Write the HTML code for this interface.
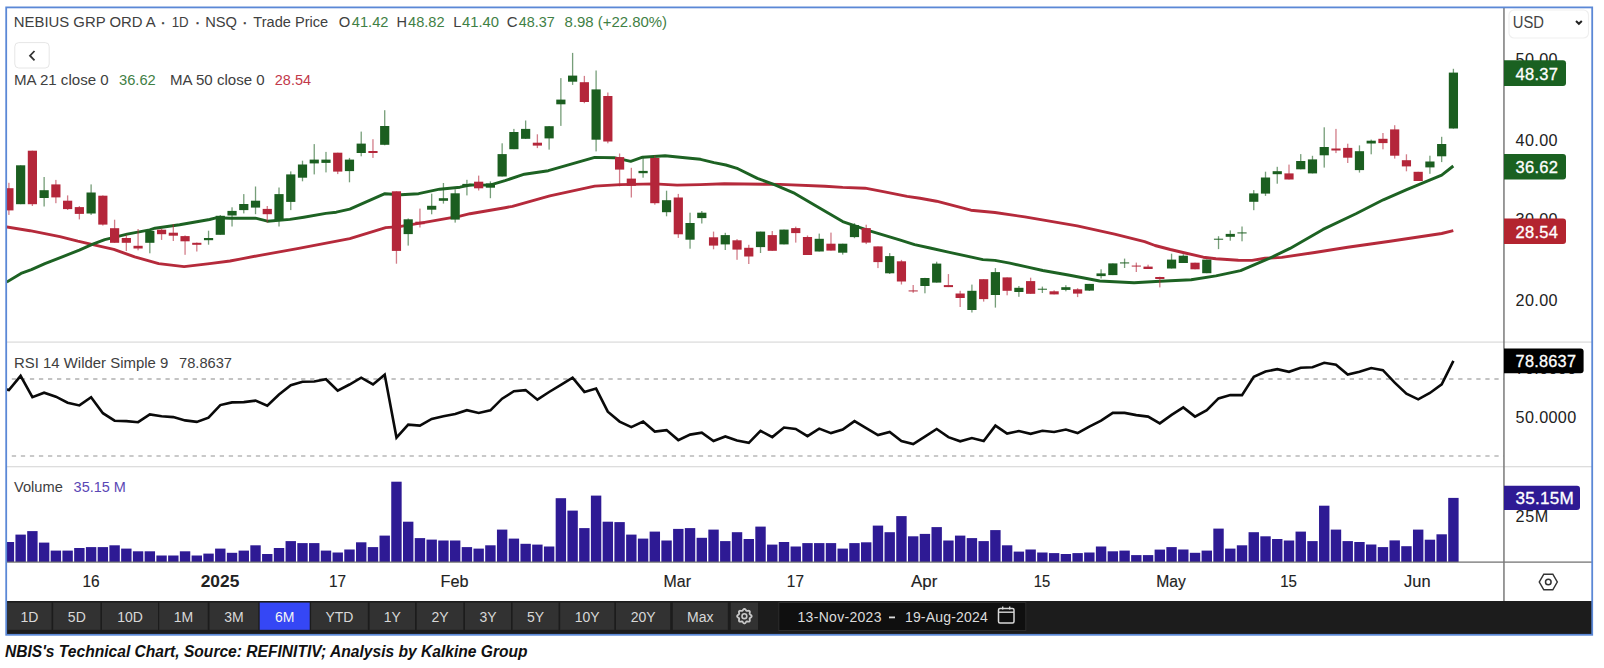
<!DOCTYPE html>
<html><head><meta charset="utf-8"><style>
*{margin:0;padding:0}
html,body{width:1604px;height:668px;background:#fff;overflow:hidden;font-family:"Liberation Sans", sans-serif}
svg{position:absolute;left:0;top:0}
</style></head><body>
<svg width="1604" height="668" viewBox="0 0 1604 668">
<defs><clipPath id="plot"><rect x="7" y="8" width="1496.3" height="593"/></clipPath></defs>
<rect x="7" y="341.5" width="1585" height="1.2" fill="#dadada"/>
<rect x="7" y="466.1" width="1585" height="1.2" fill="#dadada"/>
<line x1="11.8" y1="379" x2="1504" y2="379" stroke="#b0b0b0" stroke-width="1.6" stroke-dasharray="4.3,4.74"/>
<line x1="11.8" y1="456" x2="1504" y2="456" stroke="#b8b8b8" stroke-width="1.6" stroke-dasharray="4.3,4.74"/>
<g clip-path="url(#plot)"><polyline fill="none" stroke="#b52a3b" stroke-width="2.9" stroke-linejoin="round" points="6.7,226.9 29.9,230.7 59.9,236.7 77.8,241.2 92.8,244.6 113.8,249.4 134.7,256.9 158.7,263.6 184.1,266.6 209.6,263.6 230.0,261.0 240.0,259.1 259.9,255.3 297.4,248.6 349.8,238.6 385.7,227.6 399.2,226.6 424.6,222.4 460.0,216.1 470.0,213.7 505.0,207.7 512.4,206.3 549.8,195.9 594.7,186.1 620.2,184.6 654.6,183.9 677.1,185.1 700.0,184.6 724.4,183.7 779.8,184.4 825.0,186.2 842.7,187.4 865.1,188.2 884.6,191.9 907.1,196.4 920.0,198.2 936.5,201.2 970.9,210.2 994.9,212.5 1024.8,216.9 1077.2,225.9 1114.6,234.2 1144.6,241.6 1155.0,245.5 1170.3,249.5 1183.0,252.5 1203.3,257.2 1215.9,258.7 1238.3,260.2 1252.1,260.4 1265.0,258.2 1281.8,257.4 1314.7,252.5 1347.7,247.2 1390.0,241.3 1441.7,233.5 1453.3,230.6"/><polyline fill="none" stroke="#1d6223" stroke-width="2.9" stroke-linejoin="round" points="6.7,282.0 21.0,273.4 31.4,269.6 44.9,263.6 62.9,256.6 79.3,250.1 92.8,244.2 104.8,239.7 110.0,238.4 127.2,234.1 149.7,229.9 155.0,228.2 179.6,224.7 209.6,219.5 217.0,217.7 230.0,218.2 255.4,218.2 267.4,221.2 289.9,219.4 303.8,217.2 325.8,213.4 336.3,212.2 349.8,209.2 384.9,193.7 400.7,194.7 418.6,193.7 439.6,189.2 460.0,187.2 470.0,185.0 489.9,185.1 505.0,180.6 524.4,174.2 548.3,170.7 594.7,157.4 614.2,157.7 630.7,161.4 642.6,157.2 665.1,155.7 690.0,158.2 700.5,159.3 714.0,162.7 725.9,165.0 737.9,168.7 757.4,178.4 773.8,184.4 794.8,193.4 818.7,207.6 842.7,221.6 869.6,230.8 899.6,239.8 914.6,244.6 930.0,248.0 948.4,252.1 982.9,259.6 994.9,260.4 1009.8,263.1 1027.8,267.1 1042.8,270.5 1069.7,275.3 1099.6,281.0 1134.1,282.8 1160.0,281.3 1191.2,279.7 1215.9,275.9 1240.6,270.6 1268.6,258.7 1290.0,248.4 1323.0,229.4 1355.9,213.8 1383.3,199.8 1406.7,189.7 1441.7,175.2 1453.3,166.0"/><rect x="8.25" y="182.8" width="1.3" height="32.1" fill="#b4263a" opacity="0.6"/><rect x="4.30" y="188.2" width="9.2" height="22.2" fill="#b4263a" opacity="1"/><rect x="19.99" y="165.3" width="1.3" height="38.9" fill="#1b5e20" opacity="0.6"/><rect x="16.04" y="165.3" width="9.2" height="38.9" fill="#1b5e20" opacity="1"/><rect x="31.74" y="150.7" width="1.3" height="55.3" fill="#b4263a" opacity="0.6"/><rect x="27.79" y="150.7" width="9.2" height="53.5" fill="#b4263a" opacity="1"/><rect x="43.48" y="177.0" width="1.3" height="29.5" fill="#1b5e20" opacity="0.6"/><rect x="39.53" y="190.2" width="9.2" height="7.8" fill="#1b5e20" opacity="1"/><rect x="55.23" y="179.9" width="1.3" height="23.3" fill="#b4263a" opacity="0.6"/><rect x="51.28" y="184.4" width="9.2" height="13.0" fill="#b4263a" opacity="1"/><rect x="66.97" y="195.4" width="1.3" height="14.6" fill="#b4263a" opacity="0.6"/><rect x="63.02" y="200.7" width="9.2" height="8.4" fill="#b4263a" opacity="1"/><rect x="78.71" y="206.1" width="1.3" height="13.3" fill="#b4263a" opacity="0.6"/><rect x="74.76" y="207.1" width="9.2" height="6.8" fill="#b4263a" opacity="1"/><rect x="90.46" y="184.4" width="1.3" height="30.5" fill="#1b5e20" opacity="0.6"/><rect x="86.51" y="192.5" width="9.2" height="21.0" fill="#1b5e20" opacity="1"/><rect x="102.20" y="195.4" width="1.3" height="30.2" fill="#b4263a" opacity="0.6"/><rect x="98.25" y="195.7" width="9.2" height="28.9" fill="#b4263a" opacity="1"/><rect x="113.95" y="219.7" width="1.3" height="23.1" fill="#b4263a" opacity="0.6"/><rect x="110.00" y="228.2" width="9.2" height="14.6" fill="#b4263a" opacity="1"/><rect x="125.69" y="234.6" width="1.3" height="16.4" fill="#b4263a" opacity="0.6"/><rect x="121.74" y="238.0" width="9.2" height="4.8" fill="#b4263a" opacity="1"/><rect x="137.43" y="229.0" width="1.3" height="21.3" fill="#b4263a" opacity="0.6"/><rect x="133.48" y="245.8" width="9.2" height="2.7" fill="#b4263a" opacity="1"/><rect x="149.18" y="230.9" width="1.3" height="22.4" fill="#1b5e20" opacity="0.6"/><rect x="145.23" y="230.9" width="9.2" height="11.9" fill="#1b5e20" opacity="1"/><rect x="160.92" y="228.6" width="1.3" height="11.3" fill="#b4263a" opacity="0.6"/><rect x="156.97" y="229.7" width="9.2" height="4.5" fill="#b4263a" opacity="1"/><rect x="172.67" y="224.1" width="1.3" height="16.9" fill="#b4263a" opacity="0.6"/><rect x="168.72" y="232.7" width="9.2" height="3.0" fill="#b4263a" opacity="1"/><rect x="184.41" y="235.4" width="1.3" height="19.4" fill="#b4263a" opacity="0.6"/><rect x="180.46" y="236.1" width="9.2" height="5.2" fill="#b4263a" opacity="1"/><rect x="196.15" y="242.5" width="1.3" height="9.0" fill="#b4263a" opacity="0.6"/><rect x="192.20" y="242.8" width="9.2" height="2.0" fill="#b4263a" opacity="1"/><rect x="207.90" y="230.7" width="1.3" height="14.0" fill="#1b5e20" opacity="0.6"/><rect x="203.95" y="238.0" width="9.2" height="2.2" fill="#1b5e20" opacity="1"/><rect x="219.64" y="215.0" width="1.3" height="19.8" fill="#1b5e20" opacity="0.6"/><rect x="215.69" y="215.8" width="9.2" height="19.0" fill="#1b5e20" opacity="1"/><rect x="231.39" y="207.3" width="1.3" height="19.2" fill="#1b5e20" opacity="0.6"/><rect x="227.44" y="210.9" width="9.2" height="4.6" fill="#1b5e20" opacity="1"/><rect x="243.13" y="194.1" width="1.3" height="19.3" fill="#1b5e20" opacity="0.6"/><rect x="239.18" y="204.0" width="9.2" height="6.1" fill="#1b5e20" opacity="1"/><rect x="254.87" y="186.5" width="1.3" height="27.7" fill="#1b5e20" opacity="0.6"/><rect x="250.92" y="200.7" width="9.2" height="6.9" fill="#1b5e20" opacity="1"/><rect x="266.62" y="206.0" width="1.3" height="16.4" fill="#b4263a" opacity="0.6"/><rect x="262.67" y="208.9" width="9.2" height="5.3" fill="#b4263a" opacity="1"/><rect x="278.36" y="187.5" width="1.3" height="39.0" fill="#1b5e20" opacity="0.6"/><rect x="274.41" y="194.1" width="9.2" height="25.9" fill="#1b5e20" opacity="1"/><rect x="290.11" y="171.4" width="1.3" height="38.7" fill="#1b5e20" opacity="0.6"/><rect x="286.16" y="174.4" width="9.2" height="27.5" fill="#1b5e20" opacity="1"/><rect x="301.85" y="160.7" width="1.3" height="20.6" fill="#1b5e20" opacity="0.6"/><rect x="297.90" y="164.5" width="9.2" height="13.2" fill="#1b5e20" opacity="1"/><rect x="313.59" y="144.1" width="1.3" height="30.3" fill="#1b5e20" opacity="0.6"/><rect x="309.64" y="159.6" width="9.2" height="3.8" fill="#1b5e20" opacity="1"/><rect x="325.34" y="151.9" width="1.3" height="20.5" fill="#1b5e20" opacity="0.6"/><rect x="321.39" y="159.6" width="9.2" height="3.3" fill="#1b5e20" opacity="1"/><rect x="337.08" y="152.7" width="1.3" height="21.4" fill="#b4263a" opacity="0.6"/><rect x="333.13" y="152.7" width="9.2" height="18.9" fill="#b4263a" opacity="1"/><rect x="348.83" y="157.9" width="1.3" height="24.4" fill="#1b5e20" opacity="0.6"/><rect x="344.88" y="159.6" width="9.2" height="11.5" fill="#1b5e20" opacity="1"/><rect x="360.57" y="131.6" width="1.3" height="24.7" fill="#1b5e20" opacity="0.6"/><rect x="356.62" y="143.6" width="9.2" height="9.4" fill="#1b5e20" opacity="1"/><rect x="372.31" y="139.2" width="1.3" height="18.7" fill="#b4263a" opacity="0.6"/><rect x="368.36" y="151.0" width="9.2" height="2.0" fill="#b4263a" opacity="1"/><rect x="384.06" y="110.2" width="1.3" height="35.1" fill="#1b5e20" opacity="0.6"/><rect x="380.11" y="126.0" width="9.2" height="18.8" fill="#1b5e20" opacity="1"/><rect x="395.80" y="191.3" width="1.3" height="72.4" fill="#b4263a" opacity="0.6"/><rect x="391.85" y="191.3" width="9.2" height="59.6" fill="#b4263a" opacity="1"/><rect x="407.55" y="218.4" width="1.3" height="27.2" fill="#1b5e20" opacity="0.6"/><rect x="403.60" y="219.3" width="9.2" height="14.8" fill="#1b5e20" opacity="1"/><rect x="419.29" y="208.6" width="1.3" height="18.9" fill="#b4263a" opacity="0.6"/><rect x="415.34" y="221.7" width="9.2" height="2.5" fill="#b4263a" opacity="1"/><rect x="431.03" y="193.7" width="1.3" height="20.6" fill="#1b5e20" opacity="0.6"/><rect x="427.08" y="205.8" width="9.2" height="3.9" fill="#1b5e20" opacity="1"/><rect x="442.78" y="183.0" width="1.3" height="20.6" fill="#1b5e20" opacity="0.6"/><rect x="438.83" y="198.2" width="9.2" height="2.6" fill="#1b5e20" opacity="1"/><rect x="454.52" y="189.3" width="1.3" height="33.3" fill="#1b5e20" opacity="0.6"/><rect x="450.57" y="193.3" width="9.2" height="26.3" fill="#1b5e20" opacity="1"/><rect x="466.27" y="179.8" width="1.3" height="15.6" fill="#1b5e20" opacity="0.6"/><rect x="462.32" y="183.9" width="9.2" height="2.4" fill="#1b5e20" opacity="1"/><rect x="478.01" y="175.6" width="1.3" height="14.9" fill="#b4263a" opacity="0.6"/><rect x="474.06" y="181.7" width="9.2" height="6.6" fill="#b4263a" opacity="1"/><rect x="489.75" y="181.4" width="1.3" height="16.8" fill="#1b5e20" opacity="0.6"/><rect x="485.80" y="183.4" width="9.2" height="4.3" fill="#1b5e20" opacity="1"/><rect x="501.50" y="143.3" width="1.3" height="33.2" fill="#1b5e20" opacity="0.6"/><rect x="497.55" y="154.1" width="9.2" height="22.4" fill="#1b5e20" opacity="1"/><rect x="513.24" y="128.9" width="1.3" height="20.3" fill="#1b5e20" opacity="0.6"/><rect x="509.29" y="132.0" width="9.2" height="17.2" fill="#1b5e20" opacity="1"/><rect x="524.99" y="120.5" width="1.3" height="18.5" fill="#1b5e20" opacity="0.6"/><rect x="521.04" y="128.9" width="9.2" height="9.9" fill="#1b5e20" opacity="1"/><rect x="536.73" y="134.3" width="1.3" height="13.8" fill="#b4263a" opacity="0.6"/><rect x="532.78" y="142.7" width="9.2" height="2.9" fill="#b4263a" opacity="1"/><rect x="548.47" y="126.0" width="1.3" height="23.6" fill="#1b5e20" opacity="0.6"/><rect x="544.52" y="126.2" width="9.2" height="12.2" fill="#1b5e20" opacity="1"/><rect x="560.22" y="78.1" width="1.3" height="47.8" fill="#1b5e20" opacity="0.6"/><rect x="556.27" y="99.6" width="9.2" height="4.7" fill="#1b5e20" opacity="1"/><rect x="571.96" y="52.9" width="1.3" height="32.0" fill="#1b5e20" opacity="0.6"/><rect x="568.01" y="75.6" width="9.2" height="6.1" fill="#1b5e20" opacity="1"/><rect x="583.71" y="75.9" width="1.3" height="27.3" fill="#b4263a" opacity="0.6"/><rect x="579.76" y="82.2" width="9.2" height="19.8" fill="#b4263a" opacity="1"/><rect x="595.45" y="70.5" width="1.3" height="80.9" fill="#1b5e20" opacity="0.6"/><rect x="591.50" y="89.4" width="9.2" height="50.3" fill="#1b5e20" opacity="1"/><rect x="607.19" y="92.5" width="1.3" height="50.8" fill="#b4263a" opacity="0.6"/><rect x="603.24" y="96.0" width="9.2" height="45.5" fill="#b4263a" opacity="1"/><rect x="618.94" y="153.5" width="1.3" height="32.8" fill="#b4263a" opacity="0.6"/><rect x="614.99" y="157.1" width="9.2" height="12.5" fill="#b4263a" opacity="1"/><rect x="630.68" y="167.8" width="1.3" height="29.7" fill="#b4263a" opacity="0.6"/><rect x="626.73" y="178.6" width="9.2" height="7.2" fill="#b4263a" opacity="1"/><rect x="642.43" y="156.5" width="1.3" height="21.2" fill="#1b5e20" opacity="0.6"/><rect x="638.48" y="170.9" width="9.2" height="2.3" fill="#1b5e20" opacity="1"/><rect x="654.17" y="155.8" width="1.3" height="48.9" fill="#b4263a" opacity="0.6"/><rect x="650.22" y="158.0" width="9.2" height="45.2" fill="#b4263a" opacity="1"/><rect x="665.91" y="190.7" width="1.3" height="25.6" fill="#1b5e20" opacity="0.6"/><rect x="661.96" y="200.2" width="9.2" height="12.0" fill="#1b5e20" opacity="1"/><rect x="677.66" y="193.9" width="1.3" height="44.0" fill="#b4263a" opacity="0.6"/><rect x="673.71" y="197.5" width="9.2" height="36.8" fill="#b4263a" opacity="1"/><rect x="689.40" y="212.7" width="1.3" height="36.0" fill="#1b5e20" opacity="0.6"/><rect x="685.45" y="223.0" width="9.2" height="16.7" fill="#1b5e20" opacity="1"/><rect x="701.15" y="211.0" width="1.3" height="12.5" fill="#1b5e20" opacity="0.6"/><rect x="697.20" y="212.7" width="9.2" height="5.4" fill="#1b5e20" opacity="1"/><rect x="712.89" y="231.6" width="1.3" height="17.7" fill="#b4263a" opacity="0.6"/><rect x="708.94" y="237.3" width="9.2" height="8.3" fill="#b4263a" opacity="1"/><rect x="724.63" y="232.8" width="1.3" height="17.2" fill="#1b5e20" opacity="0.6"/><rect x="720.68" y="235.1" width="9.2" height="9.3" fill="#1b5e20" opacity="1"/><rect x="736.38" y="239.1" width="1.3" height="20.7" fill="#b4263a" opacity="0.6"/><rect x="732.43" y="240.3" width="9.2" height="9.3" fill="#b4263a" opacity="1"/><rect x="748.12" y="244.8" width="1.3" height="19.2" fill="#b4263a" opacity="0.6"/><rect x="744.17" y="247.8" width="9.2" height="8.7" fill="#b4263a" opacity="1"/><rect x="759.87" y="231.6" width="1.3" height="21.4" fill="#1b5e20" opacity="0.6"/><rect x="755.92" y="231.6" width="9.2" height="15.5" fill="#1b5e20" opacity="1"/><rect x="771.61" y="231.0" width="1.3" height="19.8" fill="#b4263a" opacity="0.6"/><rect x="767.66" y="235.1" width="9.2" height="15.7" fill="#b4263a" opacity="1"/><rect x="783.35" y="229.6" width="1.3" height="14.8" fill="#1b5e20" opacity="0.6"/><rect x="779.40" y="229.6" width="9.2" height="14.8" fill="#1b5e20" opacity="1"/><rect x="795.10" y="226.6" width="1.3" height="16.0" fill="#b4263a" opacity="0.6"/><rect x="791.15" y="228.1" width="9.2" height="5.0" fill="#b4263a" opacity="1"/><rect x="806.84" y="235.5" width="1.3" height="19.5" fill="#b4263a" opacity="0.6"/><rect x="802.89" y="237.0" width="9.2" height="18.0" fill="#b4263a" opacity="1"/><rect x="818.59" y="233.6" width="1.3" height="17.9" fill="#1b5e20" opacity="0.6"/><rect x="814.64" y="238.8" width="9.2" height="12.7" fill="#1b5e20" opacity="1"/><rect x="830.33" y="232.6" width="1.3" height="18.0" fill="#b4263a" opacity="0.6"/><rect x="826.38" y="243.7" width="9.2" height="6.9" fill="#b4263a" opacity="1"/><rect x="842.07" y="243.7" width="1.3" height="10.9" fill="#1b5e20" opacity="0.6"/><rect x="838.12" y="243.7" width="9.2" height="9.0" fill="#1b5e20" opacity="1"/><rect x="853.82" y="223.2" width="1.3" height="15.0" fill="#1b5e20" opacity="0.6"/><rect x="849.87" y="225.1" width="9.2" height="12.0" fill="#1b5e20" opacity="1"/><rect x="865.56" y="224.7" width="1.3" height="19.4" fill="#b4263a" opacity="0.6"/><rect x="861.61" y="228.1" width="9.2" height="14.5" fill="#b4263a" opacity="1"/><rect x="877.31" y="246.4" width="1.3" height="21.7" fill="#b4263a" opacity="0.6"/><rect x="873.36" y="246.4" width="9.2" height="15.7" fill="#b4263a" opacity="1"/><rect x="889.05" y="253.1" width="1.3" height="20.9" fill="#1b5e20" opacity="0.6"/><rect x="885.10" y="256.1" width="9.2" height="17.2" fill="#1b5e20" opacity="1"/><rect x="900.79" y="259.9" width="1.3" height="24.6" fill="#b4263a" opacity="0.6"/><rect x="896.84" y="261.3" width="9.2" height="20.2" fill="#b4263a" opacity="1"/><rect x="912.54" y="285.0" width="1.3" height="7.8" fill="#b4263a" opacity="0.6"/><rect x="908.59" y="290.2" width="9.2" height="1.4" fill="#b4263a" opacity="0.7"/><rect x="924.28" y="277.8" width="1.3" height="15.5" fill="#1b5e20" opacity="0.6"/><rect x="920.33" y="278.0" width="9.2" height="8.0" fill="#1b5e20" opacity="1"/><rect x="936.03" y="261.7" width="1.3" height="20.9" fill="#1b5e20" opacity="0.6"/><rect x="932.08" y="263.6" width="9.2" height="19.0" fill="#1b5e20" opacity="1"/><rect x="947.77" y="274.1" width="1.3" height="13.0" fill="#b4263a" opacity="0.6"/><rect x="943.82" y="285.1" width="9.2" height="2.0" fill="#b4263a" opacity="1"/><rect x="959.51" y="290.8" width="1.3" height="16.2" fill="#b4263a" opacity="0.6"/><rect x="955.56" y="293.5" width="9.2" height="4.5" fill="#b4263a" opacity="1"/><rect x="971.26" y="284.6" width="1.3" height="27.9" fill="#1b5e20" opacity="0.6"/><rect x="967.31" y="290.8" width="9.2" height="19.2" fill="#1b5e20" opacity="1"/><rect x="983.00" y="279.2" width="1.3" height="22.4" fill="#b4263a" opacity="0.6"/><rect x="979.05" y="279.2" width="9.2" height="19.9" fill="#b4263a" opacity="1"/><rect x="994.75" y="268.1" width="1.3" height="39.5" fill="#1b5e20" opacity="0.6"/><rect x="990.80" y="272.1" width="9.2" height="22.9" fill="#1b5e20" opacity="1"/><rect x="1006.49" y="277.4" width="1.3" height="17.9" fill="#b4263a" opacity="0.6"/><rect x="1002.54" y="277.4" width="9.2" height="13.4" fill="#b4263a" opacity="1"/><rect x="1018.23" y="286.0" width="1.3" height="10.8" fill="#1b5e20" opacity="0.6"/><rect x="1014.28" y="287.8" width="9.2" height="4.2" fill="#1b5e20" opacity="1"/><rect x="1029.98" y="277.7" width="1.3" height="16.1" fill="#b4263a" opacity="0.6"/><rect x="1026.03" y="281.1" width="9.2" height="12.7" fill="#b4263a" opacity="1"/><rect x="1041.72" y="286.6" width="1.3" height="6.4" fill="#1b5e20" opacity="0.6"/><rect x="1037.77" y="288.6" width="9.2" height="1.4" fill="#1b5e20" opacity="0.7"/><rect x="1053.47" y="290.3" width="1.3" height="4.1" fill="#b4263a" opacity="0.6"/><rect x="1049.52" y="291.3" width="9.2" height="3.1" fill="#b4263a" opacity="1"/><rect x="1065.21" y="285.2" width="1.3" height="6.1" fill="#1b5e20" opacity="0.6"/><rect x="1061.26" y="287.2" width="9.2" height="2.7" fill="#1b5e20" opacity="1"/><rect x="1076.95" y="288.2" width="1.3" height="8.9" fill="#b4263a" opacity="0.6"/><rect x="1073.00" y="289.3" width="9.2" height="4.3" fill="#b4263a" opacity="1"/><rect x="1088.70" y="283.9" width="1.3" height="7.1" fill="#1b5e20" opacity="0.6"/><rect x="1084.75" y="283.9" width="9.2" height="6.7" fill="#1b5e20" opacity="1"/><rect x="1100.44" y="269.3" width="1.3" height="9.2" fill="#1b5e20" opacity="0.6"/><rect x="1096.49" y="273.4" width="9.2" height="2.7" fill="#1b5e20" opacity="1"/><rect x="1112.19" y="263.4" width="1.3" height="11.7" fill="#1b5e20" opacity="0.6"/><rect x="1108.24" y="263.4" width="9.2" height="11.7" fill="#1b5e20" opacity="1"/><rect x="1123.93" y="258.6" width="1.3" height="9.4" fill="#1b5e20" opacity="0.6"/><rect x="1119.98" y="262.2" width="9.2" height="1.4" fill="#1b5e20" opacity="0.7"/><rect x="1135.67" y="262.6" width="1.3" height="9.4" fill="#b4263a" opacity="0.6"/><rect x="1131.72" y="265.4" width="9.2" height="1.4" fill="#b4263a" opacity="0.7"/><rect x="1147.42" y="264.7" width="1.3" height="4.3" fill="#b4263a" opacity="0.6"/><rect x="1143.47" y="266.6" width="9.2" height="2.4" fill="#b4263a" opacity="1"/><rect x="1159.16" y="276.7" width="1.3" height="10.7" fill="#b4263a" opacity="0.6"/><rect x="1155.21" y="277.0" width="9.2" height="2.0" fill="#b4263a" opacity="1"/><rect x="1170.91" y="253.7" width="1.3" height="14.8" fill="#1b5e20" opacity="0.6"/><rect x="1166.96" y="259.6" width="9.2" height="8.9" fill="#1b5e20" opacity="1"/><rect x="1182.65" y="254.3" width="1.3" height="8.7" fill="#1b5e20" opacity="0.6"/><rect x="1178.70" y="255.7" width="9.2" height="7.3" fill="#1b5e20" opacity="1"/><rect x="1194.39" y="262.7" width="1.3" height="6.6" fill="#b4263a" opacity="0.6"/><rect x="1190.44" y="262.7" width="9.2" height="6.6" fill="#b4263a" opacity="1"/><rect x="1206.14" y="259.6" width="1.3" height="13.6" fill="#1b5e20" opacity="0.6"/><rect x="1202.19" y="259.6" width="9.2" height="13.6" fill="#1b5e20" opacity="1"/><rect x="1217.88" y="236.2" width="1.3" height="12.9" fill="#1b5e20" opacity="0.6"/><rect x="1213.93" y="238.6" width="9.2" height="1.4" fill="#1b5e20" opacity="0.7"/><rect x="1229.63" y="230.4" width="1.3" height="10.3" fill="#1b5e20" opacity="0.6"/><rect x="1225.68" y="233.9" width="9.2" height="2.9" fill="#1b5e20" opacity="1"/><rect x="1241.37" y="226.5" width="1.3" height="14.8" fill="#1b5e20" opacity="0.6"/><rect x="1237.42" y="232.2" width="9.2" height="1.4" fill="#1b5e20" opacity="0.7"/><rect x="1253.11" y="190.1" width="1.3" height="20.1" fill="#1b5e20" opacity="0.6"/><rect x="1249.16" y="193.4" width="9.2" height="8.4" fill="#1b5e20" opacity="1"/><rect x="1264.86" y="171.7" width="1.3" height="24.2" fill="#1b5e20" opacity="0.6"/><rect x="1260.91" y="177.5" width="9.2" height="16.1" fill="#1b5e20" opacity="1"/><rect x="1276.60" y="166.8" width="1.3" height="16.9" fill="#1b5e20" opacity="0.6"/><rect x="1272.65" y="171.2" width="9.2" height="3.0" fill="#1b5e20" opacity="1"/><rect x="1288.35" y="164.6" width="1.3" height="14.9" fill="#b4263a" opacity="0.6"/><rect x="1284.40" y="173.4" width="9.2" height="6.1" fill="#b4263a" opacity="1"/><rect x="1300.09" y="154.1" width="1.3" height="15.2" fill="#1b5e20" opacity="0.6"/><rect x="1296.14" y="161.0" width="9.2" height="8.3" fill="#1b5e20" opacity="1"/><rect x="1311.83" y="155.8" width="1.3" height="17.6" fill="#1b5e20" opacity="0.6"/><rect x="1307.88" y="159.4" width="9.2" height="14.0" fill="#1b5e20" opacity="1"/><rect x="1323.58" y="127.3" width="1.3" height="40.3" fill="#1b5e20" opacity="0.6"/><rect x="1319.63" y="147.0" width="9.2" height="8.3" fill="#1b5e20" opacity="1"/><rect x="1335.32" y="128.9" width="1.3" height="24.2" fill="#b4263a" opacity="0.6"/><rect x="1331.37" y="148.5" width="9.2" height="2.0" fill="#b4263a" opacity="1"/><rect x="1347.07" y="143.7" width="1.3" height="19.3" fill="#b4263a" opacity="0.6"/><rect x="1343.12" y="147.9" width="9.2" height="9.8" fill="#b4263a" opacity="1"/><rect x="1358.81" y="145.4" width="1.3" height="27.2" fill="#1b5e20" opacity="0.6"/><rect x="1354.86" y="151.2" width="9.2" height="18.9" fill="#1b5e20" opacity="1"/><rect x="1370.55" y="139.6" width="1.3" height="14.7" fill="#1b5e20" opacity="0.6"/><rect x="1366.60" y="140.7" width="9.2" height="2.8" fill="#1b5e20" opacity="1"/><rect x="1382.30" y="133.0" width="1.3" height="16.3" fill="#b4263a" opacity="0.6"/><rect x="1378.35" y="138.8" width="9.2" height="4.3" fill="#b4263a" opacity="1"/><rect x="1394.04" y="125.2" width="1.3" height="33.4" fill="#b4263a" opacity="0.6"/><rect x="1390.09" y="129.4" width="9.2" height="26.3" fill="#b4263a" opacity="1"/><rect x="1405.79" y="154.3" width="1.3" height="17.0" fill="#b4263a" opacity="0.6"/><rect x="1401.84" y="160.2" width="9.2" height="6.2" fill="#b4263a" opacity="1"/><rect x="1417.53" y="171.8" width="1.3" height="9.2" fill="#b4263a" opacity="0.6"/><rect x="1413.58" y="171.8" width="9.2" height="9.2" fill="#b4263a" opacity="1"/><rect x="1429.27" y="155.7" width="1.3" height="18.1" fill="#1b5e20" opacity="0.6"/><rect x="1425.32" y="161.5" width="9.2" height="5.9" fill="#1b5e20" opacity="1"/><rect x="1441.02" y="136.8" width="1.3" height="25.3" fill="#1b5e20" opacity="0.6"/><rect x="1437.07" y="144.0" width="9.2" height="12.3" fill="#1b5e20" opacity="1"/><rect x="1452.76" y="68.8" width="1.3" height="59.8" fill="#1b5e20" opacity="0.6"/><rect x="1448.81" y="72.6" width="9.2" height="55.9" fill="#1b5e20" opacity="1"/><polyline fill="none" stroke="#0a0a0a" stroke-width="2.6" stroke-linejoin="miter" stroke-miterlimit="6" points="6.5,389.5 8.9,390.0 20.6,375.8 32.4,397.2 44.1,392.7 55.9,396.7 67.6,402.7 79.4,405.4 91.1,397.2 102.9,413.2 114.6,420.7 126.3,421.1 138.1,422.2 149.8,414.4 161.6,416.2 173.3,417.1 185.1,420.4 196.8,421.9 208.5,417.7 220.3,405.1 232.0,402.4 243.8,402.1 255.5,400.6 267.3,405.7 279.0,394.6 290.8,385.2 302.5,381.8 314.2,381.5 326.0,379.2 337.7,390.7 349.5,384.5 361.2,377.7 373.0,384.5 384.7,374.7 396.5,437.6 408.2,424.6 419.9,425.6 431.7,418.9 443.4,416.2 455.2,414.1 466.9,410.2 478.7,412.9 490.4,410.3 502.1,398.7 513.9,391.2 525.6,390.1 537.4,399.7 549.1,392.0 560.9,384.8 572.6,377.7 584.4,391.9 596.1,388.6 607.8,411.7 619.6,421.6 631.3,427.1 643.1,421.6 654.8,431.6 666.6,430.1 678.3,440.1 690.1,434.6 701.8,432.7 713.5,441.0 725.3,436.5 737.0,440.6 748.8,442.8 760.5,430.8 772.3,437.1 784.0,427.5 795.7,429.0 807.5,436.1 819.2,428.6 831.0,433.1 842.7,429.6 854.5,421.1 866.2,428.1 878.0,435.0 889.7,432.0 901.4,441.0 913.2,444.0 924.9,436.6 936.7,429.0 948.4,437.1 960.2,441.3 971.9,438.0 983.7,441.0 995.4,425.6 1007.1,433.5 1018.9,431.1 1030.6,433.8 1042.4,430.8 1054.1,432.0 1065.9,429.6 1077.6,433.1 1089.3,426.6 1101.1,420.7 1112.8,412.9 1124.6,412.9 1136.3,415.1 1148.1,416.6 1159.8,423.4 1171.6,414.9 1183.3,407.4 1195.0,416.6 1206.8,410.1 1218.5,398.4 1230.3,395.1 1242.0,395.1 1253.8,376.7 1265.5,371.5 1277.3,369.2 1289.0,371.8 1300.7,367.7 1312.5,367.3 1324.2,362.8 1336.0,364.7 1347.7,374.5 1359.5,371.8 1371.2,368.0 1382.9,370.1 1394.7,382.7 1406.4,393.7 1418.2,399.3 1429.9,393.0 1441.7,384.3 1453.4,360.9"/><rect x="3.70" y="542.0" width="10.4" height="20.0" fill="#2e1a94"/><rect x="15.44" y="534.6" width="10.4" height="27.4" fill="#2e1a94"/><rect x="27.19" y="531.1" width="10.4" height="30.9" fill="#2e1a94"/><rect x="38.93" y="542.6" width="10.4" height="19.4" fill="#2e1a94"/><rect x="50.68" y="550.6" width="10.4" height="11.4" fill="#2e1a94"/><rect x="62.42" y="550.6" width="10.4" height="11.4" fill="#2e1a94"/><rect x="74.16" y="548.0" width="10.4" height="14.0" fill="#2e1a94"/><rect x="85.91" y="547.1" width="10.4" height="14.9" fill="#2e1a94"/><rect x="97.65" y="547.1" width="10.4" height="14.9" fill="#2e1a94"/><rect x="109.40" y="545.3" width="10.4" height="16.7" fill="#2e1a94"/><rect x="121.14" y="548.6" width="10.4" height="13.4" fill="#2e1a94"/><rect x="132.88" y="551.3" width="10.4" height="10.7" fill="#2e1a94"/><rect x="144.63" y="551.3" width="10.4" height="10.7" fill="#2e1a94"/><rect x="156.37" y="555.5" width="10.4" height="6.5" fill="#2e1a94"/><rect x="168.12" y="555.5" width="10.4" height="6.5" fill="#2e1a94"/><rect x="179.86" y="551.3" width="10.4" height="10.7" fill="#2e1a94"/><rect x="191.60" y="555.5" width="10.4" height="6.5" fill="#2e1a94"/><rect x="203.35" y="553.6" width="10.4" height="8.4" fill="#2e1a94"/><rect x="215.09" y="548.6" width="10.4" height="13.4" fill="#2e1a94"/><rect x="226.84" y="552.8" width="10.4" height="9.2" fill="#2e1a94"/><rect x="238.58" y="550.6" width="10.4" height="11.4" fill="#2e1a94"/><rect x="250.32" y="545.3" width="10.4" height="16.7" fill="#2e1a94"/><rect x="262.07" y="554.0" width="10.4" height="8.0" fill="#2e1a94"/><rect x="273.81" y="548.0" width="10.4" height="14.0" fill="#2e1a94"/><rect x="285.56" y="541.1" width="10.4" height="20.9" fill="#2e1a94"/><rect x="297.30" y="543.1" width="10.4" height="18.9" fill="#2e1a94"/><rect x="309.04" y="543.1" width="10.4" height="18.9" fill="#2e1a94"/><rect x="320.79" y="550.6" width="10.4" height="11.4" fill="#2e1a94"/><rect x="332.53" y="552.5" width="10.4" height="9.5" fill="#2e1a94"/><rect x="344.28" y="549.5" width="10.4" height="12.5" fill="#2e1a94"/><rect x="356.02" y="542.3" width="10.4" height="19.7" fill="#2e1a94"/><rect x="367.76" y="547.1" width="10.4" height="14.9" fill="#2e1a94"/><rect x="379.51" y="535.6" width="10.4" height="26.4" fill="#2e1a94"/><rect x="391.25" y="481.7" width="10.4" height="80.3" fill="#2e1a94"/><rect x="403.00" y="521.7" width="10.4" height="40.3" fill="#2e1a94"/><rect x="414.74" y="538.1" width="10.4" height="23.9" fill="#2e1a94"/><rect x="426.48" y="539.6" width="10.4" height="22.4" fill="#2e1a94"/><rect x="438.23" y="540.5" width="10.4" height="21.5" fill="#2e1a94"/><rect x="449.97" y="540.5" width="10.4" height="21.5" fill="#2e1a94"/><rect x="461.72" y="547.1" width="10.4" height="14.9" fill="#2e1a94"/><rect x="473.46" y="548.6" width="10.4" height="13.4" fill="#2e1a94"/><rect x="485.20" y="545.3" width="10.4" height="16.7" fill="#2e1a94"/><rect x="496.95" y="529.6" width="10.4" height="32.4" fill="#2e1a94"/><rect x="508.69" y="538.6" width="10.4" height="23.4" fill="#2e1a94"/><rect x="520.44" y="543.8" width="10.4" height="18.2" fill="#2e1a94"/><rect x="532.18" y="544.6" width="10.4" height="17.4" fill="#2e1a94"/><rect x="543.92" y="546.5" width="10.4" height="15.5" fill="#2e1a94"/><rect x="555.67" y="498.2" width="10.4" height="63.8" fill="#2e1a94"/><rect x="567.41" y="510.6" width="10.4" height="51.4" fill="#2e1a94"/><rect x="579.16" y="528.1" width="10.4" height="33.9" fill="#2e1a94"/><rect x="590.90" y="495.6" width="10.4" height="66.4" fill="#2e1a94"/><rect x="602.64" y="521.7" width="10.4" height="40.3" fill="#2e1a94"/><rect x="614.39" y="522.1" width="10.4" height="39.9" fill="#2e1a94"/><rect x="626.13" y="534.6" width="10.4" height="27.4" fill="#2e1a94"/><rect x="637.88" y="538.6" width="10.4" height="23.4" fill="#2e1a94"/><rect x="649.62" y="531.6" width="10.4" height="30.4" fill="#2e1a94"/><rect x="661.36" y="540.5" width="10.4" height="21.5" fill="#2e1a94"/><rect x="673.11" y="528.9" width="10.4" height="33.1" fill="#2e1a94"/><rect x="684.85" y="528.1" width="10.4" height="33.9" fill="#2e1a94"/><rect x="696.60" y="537.8" width="10.4" height="24.2" fill="#2e1a94"/><rect x="708.34" y="529.6" width="10.4" height="32.4" fill="#2e1a94"/><rect x="720.08" y="541.1" width="10.4" height="20.9" fill="#2e1a94"/><rect x="731.83" y="532.2" width="10.4" height="29.8" fill="#2e1a94"/><rect x="743.57" y="539.0" width="10.4" height="23.0" fill="#2e1a94"/><rect x="755.32" y="526.6" width="10.4" height="35.4" fill="#2e1a94"/><rect x="767.06" y="544.6" width="10.4" height="17.4" fill="#2e1a94"/><rect x="778.80" y="542.0" width="10.4" height="20.0" fill="#2e1a94"/><rect x="790.55" y="546.5" width="10.4" height="15.5" fill="#2e1a94"/><rect x="802.29" y="543.1" width="10.4" height="18.9" fill="#2e1a94"/><rect x="814.04" y="543.1" width="10.4" height="18.9" fill="#2e1a94"/><rect x="825.78" y="543.1" width="10.4" height="18.9" fill="#2e1a94"/><rect x="837.52" y="548.6" width="10.4" height="13.4" fill="#2e1a94"/><rect x="849.27" y="543.1" width="10.4" height="18.9" fill="#2e1a94"/><rect x="861.01" y="542.3" width="10.4" height="19.7" fill="#2e1a94"/><rect x="872.76" y="525.6" width="10.4" height="36.4" fill="#2e1a94"/><rect x="884.50" y="532.2" width="10.4" height="29.8" fill="#2e1a94"/><rect x="896.24" y="516.1" width="10.4" height="45.9" fill="#2e1a94"/><rect x="907.99" y="536.3" width="10.4" height="25.7" fill="#2e1a94"/><rect x="919.73" y="533.9" width="10.4" height="28.1" fill="#2e1a94"/><rect x="931.48" y="527.1" width="10.4" height="34.9" fill="#2e1a94"/><rect x="943.22" y="540.5" width="10.4" height="21.5" fill="#2e1a94"/><rect x="954.96" y="535.6" width="10.4" height="26.4" fill="#2e1a94"/><rect x="966.71" y="538.1" width="10.4" height="23.9" fill="#2e1a94"/><rect x="978.45" y="541.1" width="10.4" height="20.9" fill="#2e1a94"/><rect x="990.20" y="530.1" width="10.4" height="31.9" fill="#2e1a94"/><rect x="1001.94" y="545.3" width="10.4" height="16.7" fill="#2e1a94"/><rect x="1013.68" y="551.6" width="10.4" height="10.4" fill="#2e1a94"/><rect x="1025.43" y="549.5" width="10.4" height="12.5" fill="#2e1a94"/><rect x="1037.17" y="552.5" width="10.4" height="9.5" fill="#2e1a94"/><rect x="1048.92" y="553.1" width="10.4" height="8.9" fill="#2e1a94"/><rect x="1060.66" y="554.0" width="10.4" height="8.0" fill="#2e1a94"/><rect x="1072.40" y="553.1" width="10.4" height="8.9" fill="#2e1a94"/><rect x="1084.15" y="552.5" width="10.4" height="9.5" fill="#2e1a94"/><rect x="1095.89" y="546.5" width="10.4" height="15.5" fill="#2e1a94"/><rect x="1107.64" y="551.3" width="10.4" height="10.7" fill="#2e1a94"/><rect x="1119.38" y="550.6" width="10.4" height="11.4" fill="#2e1a94"/><rect x="1131.12" y="555.1" width="10.4" height="6.9" fill="#2e1a94"/><rect x="1142.87" y="555.1" width="10.4" height="6.9" fill="#2e1a94"/><rect x="1154.61" y="549.6" width="10.4" height="12.4" fill="#2e1a94"/><rect x="1166.36" y="547.1" width="10.4" height="14.9" fill="#2e1a94"/><rect x="1178.10" y="549.5" width="10.4" height="12.5" fill="#2e1a94"/><rect x="1189.84" y="552.8" width="10.4" height="9.2" fill="#2e1a94"/><rect x="1201.59" y="550.6" width="10.4" height="11.4" fill="#2e1a94"/><rect x="1213.33" y="528.6" width="10.4" height="33.4" fill="#2e1a94"/><rect x="1225.08" y="548.6" width="10.4" height="13.4" fill="#2e1a94"/><rect x="1236.82" y="545.3" width="10.4" height="16.7" fill="#2e1a94"/><rect x="1248.56" y="532.2" width="10.4" height="29.8" fill="#2e1a94"/><rect x="1260.31" y="536.3" width="10.4" height="25.7" fill="#2e1a94"/><rect x="1272.05" y="539.0" width="10.4" height="23.0" fill="#2e1a94"/><rect x="1283.80" y="540.5" width="10.4" height="21.5" fill="#2e1a94"/><rect x="1295.54" y="531.6" width="10.4" height="30.4" fill="#2e1a94"/><rect x="1307.28" y="541.1" width="10.4" height="20.9" fill="#2e1a94"/><rect x="1319.03" y="505.7" width="10.4" height="56.3" fill="#2e1a94"/><rect x="1330.77" y="529.6" width="10.4" height="32.4" fill="#2e1a94"/><rect x="1342.52" y="541.1" width="10.4" height="20.9" fill="#2e1a94"/><rect x="1354.26" y="542.0" width="10.4" height="20.0" fill="#2e1a94"/><rect x="1366.00" y="544.5" width="10.4" height="17.5" fill="#2e1a94"/><rect x="1377.75" y="547.1" width="10.4" height="14.9" fill="#2e1a94"/><rect x="1389.49" y="540.4" width="10.4" height="21.6" fill="#2e1a94"/><rect x="1401.24" y="546.2" width="10.4" height="15.8" fill="#2e1a94"/><rect x="1412.98" y="529.6" width="10.4" height="32.4" fill="#2e1a94"/><rect x="1424.72" y="539.7" width="10.4" height="22.3" fill="#2e1a94"/><rect x="1436.47" y="534.3" width="10.4" height="27.7" fill="#2e1a94"/><rect x="1448.21" y="497.9" width="10.4" height="64.1" fill="#2e1a94"/></g>
<rect x="7" y="561.5" width="1585" height="1.2" fill="#6a6a6a"/>
<rect x="1503.2" y="8" width="1.5" height="593" fill="#7a7a7a"/>
<text x="13.8" y="26.7" font-family="Liberation Sans" font-size="15.2" fill="#404040" text-anchor="start" font-weight="normal" font-style="normal" letter-spacing="0" textLength="142" lengthAdjust="spacingAndGlyphs">NEBIUS GRP ORD A</text>
<text x="163" y="26.7" font-family="Liberation Sans" font-size="15.2" fill="#404040" text-anchor="middle" font-weight="normal" font-style="normal" letter-spacing="0" stroke="#404040" stroke-width="0.5">·</text>
<text x="171.7" y="26.7" font-family="Liberation Sans" font-size="15.2" fill="#404040" text-anchor="start" font-weight="normal" font-style="normal" letter-spacing="0" textLength="17" lengthAdjust="spacingAndGlyphs">1D</text>
<text x="197.6" y="26.7" font-family="Liberation Sans" font-size="15.2" fill="#404040" text-anchor="middle" font-weight="normal" font-style="normal" letter-spacing="0" stroke="#404040" stroke-width="0.5">·</text>
<text x="205.2" y="26.7" font-family="Liberation Sans" font-size="15.2" fill="#404040" text-anchor="start" font-weight="normal" font-style="normal" letter-spacing="0" textLength="31.8" lengthAdjust="spacingAndGlyphs">NSQ</text>
<text x="244.9" y="26.7" font-family="Liberation Sans" font-size="15.2" fill="#404040" text-anchor="middle" font-weight="normal" font-style="normal" letter-spacing="0" stroke="#404040" stroke-width="0.5">·</text>
<text x="253.3" y="26.7" font-family="Liberation Sans" font-size="15.2" fill="#404040" text-anchor="start" font-weight="normal" font-style="normal" letter-spacing="0" textLength="74.9" lengthAdjust="spacingAndGlyphs">Trade Price</text>
<text x="338.7" y="26.7" font-family="Liberation Sans" font-size="15.2" fill="#404040" text-anchor="start" font-weight="normal" font-style="normal" letter-spacing="0" textLength="11.5" lengthAdjust="spacingAndGlyphs">O</text>
<text x="351.8" y="26.7" font-family="Liberation Sans" font-size="15.2" fill="#3f8045" text-anchor="start" font-weight="normal" font-style="normal" letter-spacing="0" textLength="36.7" lengthAdjust="spacingAndGlyphs">41.42</text>
<text x="396.5" y="26.7" font-family="Liberation Sans" font-size="15.2" fill="#404040" text-anchor="start" font-weight="normal" font-style="normal" letter-spacing="0" textLength="10.5" lengthAdjust="spacingAndGlyphs">H</text>
<text x="408" y="26.7" font-family="Liberation Sans" font-size="15.2" fill="#3f8045" text-anchor="start" font-weight="normal" font-style="normal" letter-spacing="0" textLength="36.6" lengthAdjust="spacingAndGlyphs">48.82</text>
<text x="453.3" y="26.7" font-family="Liberation Sans" font-size="15.2" fill="#404040" text-anchor="start" font-weight="normal" font-style="normal" letter-spacing="0" textLength="8.2" lengthAdjust="spacingAndGlyphs">L</text>
<text x="462" y="26.7" font-family="Liberation Sans" font-size="15.2" fill="#3f8045" text-anchor="start" font-weight="normal" font-style="normal" letter-spacing="0" textLength="37" lengthAdjust="spacingAndGlyphs">41.40</text>
<text x="506.7" y="26.7" font-family="Liberation Sans" font-size="15.2" fill="#404040" text-anchor="start" font-weight="normal" font-style="normal" letter-spacing="0" textLength="10.8" lengthAdjust="spacingAndGlyphs">C</text>
<text x="518.7" y="26.7" font-family="Liberation Sans" font-size="15.2" fill="#3f8045" text-anchor="start" font-weight="normal" font-style="normal" letter-spacing="0" textLength="36" lengthAdjust="spacingAndGlyphs">48.37</text>
<text x="564.6" y="26.7" font-family="Liberation Sans" font-size="15.2" fill="#3f8045" text-anchor="start" font-weight="normal" font-style="normal" letter-spacing="0" textLength="102.5" lengthAdjust="spacingAndGlyphs">8.98 (+22.80%)</text>
<rect x="14.8" y="42.6" width="34.4" height="25.4" rx="4" fill="#fff" stroke="#e6e6e6" stroke-width="1"/>
<polyline points="34.5,51 30,55.7 34.5,60.4" fill="none" stroke="#333" stroke-width="1.8"/>
<text x="13.9" y="84.6" font-family="Liberation Sans" font-size="15.2" fill="#404040" text-anchor="start" font-weight="normal" font-style="normal" letter-spacing="0" textLength="94.8" lengthAdjust="spacingAndGlyphs">MA 21 close 0</text>
<text x="119" y="84.6" font-family="Liberation Sans" font-size="15.2" fill="#3f8045" text-anchor="start" font-weight="normal" font-style="normal" letter-spacing="0" textLength="36.7" lengthAdjust="spacingAndGlyphs">36.62</text>
<text x="170" y="84.6" font-family="Liberation Sans" font-size="15.2" fill="#404040" text-anchor="start" font-weight="normal" font-style="normal" letter-spacing="0" textLength="94.6" lengthAdjust="spacingAndGlyphs">MA 50 close 0</text>
<text x="274.8" y="84.6" font-family="Liberation Sans" font-size="15.2" fill="#c2394a" text-anchor="start" font-weight="normal" font-style="normal" letter-spacing="0" textLength="36.2" lengthAdjust="spacingAndGlyphs">28.54</text>
<text x="14" y="367.8" font-family="Liberation Sans" font-size="15.2" fill="#404040" text-anchor="start" font-weight="normal" font-style="normal" letter-spacing="0" textLength="154.3" lengthAdjust="spacingAndGlyphs">RSI 14 Wilder Simple 9</text>
<text x="179" y="367.8" font-family="Liberation Sans" font-size="15.2" fill="#404040" text-anchor="start" font-weight="normal" font-style="normal" letter-spacing="0" textLength="53" lengthAdjust="spacingAndGlyphs">78.8637</text>
<text x="14" y="492" font-family="Liberation Sans" font-size="15.2" fill="#404040" text-anchor="start" font-weight="normal" font-style="normal" letter-spacing="0" textLength="48.8" lengthAdjust="spacingAndGlyphs">Volume</text>
<text x="73.6" y="492" font-family="Liberation Sans" font-size="15.2" fill="#5a47b5" text-anchor="start" font-weight="normal" font-style="normal" letter-spacing="0" textLength="52.3" lengthAdjust="spacingAndGlyphs">35.15 M</text>
<rect x="1509" y="10" width="79.5" height="28" rx="5" fill="#fff" stroke="#efefef" stroke-width="1.2"/>
<text x="1512.8" y="27.9" font-family="Liberation Sans" font-size="15.8" fill="#444" text-anchor="start" font-weight="normal" font-style="normal" letter-spacing="0" textLength="31.2" lengthAdjust="spacingAndGlyphs">USD</text>
<polyline points="1576,21 1578.9,23.8 1581.8,21" fill="none" stroke="#222" stroke-width="2"/>
<text x="1515.6" y="64.8" font-family="Liberation Sans" font-size="16.2" fill="#222" text-anchor="start" font-weight="normal" font-style="normal" letter-spacing="0.35">50.00</text>
<text x="1515.6" y="145.8" font-family="Liberation Sans" font-size="16.2" fill="#222" text-anchor="start" font-weight="normal" font-style="normal" letter-spacing="0.35">40.00</text>
<text x="1515.6" y="224.6" font-family="Liberation Sans" font-size="16.2" fill="#222" text-anchor="start" font-weight="normal" font-style="normal" letter-spacing="0.35">30.00</text>
<text x="1515.6" y="306.2" font-family="Liberation Sans" font-size="16.2" fill="#222" text-anchor="start" font-weight="normal" font-style="normal" letter-spacing="0.35">20.00</text>
<path d="M1504,60.3 H1563 Q1566,60.3 1566,63.3 V83 Q1566,86 1563,86 H1504 Z" fill="#1a6121"/>
<text x="1515.6" y="79.55000000000001" font-family="Liberation Sans" font-size="17" fill="#fff" text-anchor="start" font-weight="normal" font-style="normal" letter-spacing="0.25" textLength="42.5" lengthAdjust="spacingAndGlyphs" stroke="#fff" stroke-width="0.3">48.37</text>
<path d="M1504,154 H1563 Q1566,154 1566,157 V176.4 Q1566,179.4 1563,179.4 H1504 Z" fill="#1a6121"/>
<text x="1515.6" y="173.1" font-family="Liberation Sans" font-size="17" fill="#fff" text-anchor="start" font-weight="normal" font-style="normal" letter-spacing="0.25" textLength="42.5" lengthAdjust="spacingAndGlyphs" stroke="#fff" stroke-width="0.3">36.62</text>
<path d="M1504,218.4 H1563 Q1566,218.4 1566,221.4 V241.1 Q1566,244.1 1563,244.1 H1504 Z" fill="#b3242f"/>
<text x="1515.6" y="237.65" font-family="Liberation Sans" font-size="17" fill="#fff" text-anchor="start" font-weight="normal" font-style="normal" letter-spacing="0.25" textLength="42.5" lengthAdjust="spacingAndGlyphs" stroke="#fff" stroke-width="0.3">28.54</text>
<text x="1515.6" y="374.3" font-family="Liberation Sans" font-size="16.2" fill="#222" text-anchor="start" font-weight="normal" font-style="normal" letter-spacing="0.35">70.0000</text>
<path d="M1504,348.6 H1580.6 Q1583.6,348.6 1583.6,351.6 V370.2 Q1583.6,373.2 1580.6,373.2 H1504 Z" fill="#000"/>
<text x="1515.6" y="367.29999999999995" font-family="Liberation Sans" font-size="17" fill="#fff" text-anchor="start" font-weight="normal" font-style="normal" letter-spacing="0.25" textLength="60.6" lengthAdjust="spacingAndGlyphs" stroke="#fff" stroke-width="0.3">78.8637</text>
<text x="1515.6" y="423.2" font-family="Liberation Sans" font-size="16.2" fill="#222" text-anchor="start" font-weight="normal" font-style="normal" letter-spacing="0.35">50.0000</text>
<text x="1515.6" y="522.4" font-family="Liberation Sans" font-size="16.2" fill="#222" text-anchor="start" font-weight="normal" font-style="normal" letter-spacing="0.6">25M</text>
<path d="M1504,485.8 H1577 Q1580,485.8 1580,488.8 V507 Q1580,510 1577,510 H1504 Z" fill="#2e1a94"/>
<text x="1515.6" y="504.29999999999995" font-family="Liberation Sans" font-size="17" fill="#fff" text-anchor="start" font-weight="normal" font-style="normal" letter-spacing="0.25" textLength="58.5" lengthAdjust="spacingAndGlyphs" stroke="#fff" stroke-width="0.3">35.15M</text>
<text x="91" y="587.3" font-family="Liberation Sans" font-size="17" fill="#222" text-anchor="middle" font-weight="normal" font-style="normal" letter-spacing="0" textLength="17.2" lengthAdjust="spacingAndGlyphs" stroke="#222" stroke-width="0.15">16</text>
<text x="220" y="587.3" font-family="Liberation Sans" font-size="17" fill="#222" text-anchor="middle" font-weight="bold" font-style="normal" letter-spacing="0" textLength="38.6" lengthAdjust="spacingAndGlyphs">2025</text>
<text x="337.6" y="587.3" font-family="Liberation Sans" font-size="17" fill="#222" text-anchor="middle" font-weight="normal" font-style="normal" letter-spacing="0" textLength="17.1" lengthAdjust="spacingAndGlyphs" stroke="#222" stroke-width="0.15">17</text>
<text x="454.5" y="587.3" font-family="Liberation Sans" font-size="17" fill="#222" text-anchor="middle" font-weight="normal" font-style="normal" letter-spacing="0" textLength="28" lengthAdjust="spacingAndGlyphs" stroke="#222" stroke-width="0.15">Feb</text>
<text x="677.3" y="587.3" font-family="Liberation Sans" font-size="17" fill="#222" text-anchor="middle" font-weight="normal" font-style="normal" letter-spacing="0" textLength="27.4" lengthAdjust="spacingAndGlyphs" stroke="#222" stroke-width="0.15">Mar</text>
<text x="795.4" y="587.3" font-family="Liberation Sans" font-size="17" fill="#222" text-anchor="middle" font-weight="normal" font-style="normal" letter-spacing="0" textLength="17.1" lengthAdjust="spacingAndGlyphs" stroke="#222" stroke-width="0.15">17</text>
<text x="924.2" y="587.3" font-family="Liberation Sans" font-size="17" fill="#222" text-anchor="middle" font-weight="normal" font-style="normal" letter-spacing="0" textLength="26.2" lengthAdjust="spacingAndGlyphs" stroke="#222" stroke-width="0.15">Apr</text>
<text x="1042" y="587.3" font-family="Liberation Sans" font-size="17" fill="#222" text-anchor="middle" font-weight="normal" font-style="normal" letter-spacing="0" textLength="16.5" lengthAdjust="spacingAndGlyphs" stroke="#222" stroke-width="0.15">15</text>
<text x="1171" y="587.3" font-family="Liberation Sans" font-size="17" fill="#222" text-anchor="middle" font-weight="normal" font-style="normal" letter-spacing="0" textLength="29.6" lengthAdjust="spacingAndGlyphs" stroke="#222" stroke-width="0.15">May</text>
<text x="1288.6" y="587.3" font-family="Liberation Sans" font-size="17" fill="#222" text-anchor="middle" font-weight="normal" font-style="normal" letter-spacing="0" textLength="16.8" lengthAdjust="spacingAndGlyphs" stroke="#222" stroke-width="0.15">15</text>
<text x="1417.3" y="587.3" font-family="Liberation Sans" font-size="17" fill="#222" text-anchor="middle" font-weight="normal" font-style="normal" letter-spacing="0" textLength="26.5" lengthAdjust="spacingAndGlyphs" stroke="#222" stroke-width="0.15">Jun</text>
<polygon points="1557.3,582.0 1552.8,589.8 1543.8,589.8 1539.3,582.0 1543.8,574.2 1552.8,574.2" fill="none" stroke="#333" stroke-width="1.5"/>
<circle cx="1548.3" cy="582" r="2.8" fill="none" stroke="#333" stroke-width="1.5"/>
<rect x="6.5" y="601" width="1586" height="33.5" fill="#1c1c1c"/>
<rect x="7.3" y="602.6" width="44.2" height="27.2" fill="#323232"/>
<text x="29.4" y="622.3" font-family="Liberation Sans" font-size="14" fill="#d8d8d8" text-anchor="middle" font-weight="normal" font-style="normal" letter-spacing="0">1D</text>
<rect x="53.2" y="602.6" width="47.2" height="27.2" fill="#323232"/>
<text x="76.80000000000001" y="622.3" font-family="Liberation Sans" font-size="14" fill="#d8d8d8" text-anchor="middle" font-weight="normal" font-style="normal" letter-spacing="0">5D</text>
<rect x="102" y="602.6" width="56.0" height="27.2" fill="#323232"/>
<text x="130.0" y="622.3" font-family="Liberation Sans" font-size="14" fill="#d8d8d8" text-anchor="middle" font-weight="normal" font-style="normal" letter-spacing="0">10D</text>
<rect x="159.2" y="602.6" width="48.5" height="27.2" fill="#323232"/>
<text x="183.45" y="622.3" font-family="Liberation Sans" font-size="14" fill="#d8d8d8" text-anchor="middle" font-weight="normal" font-style="normal" letter-spacing="0">1M</text>
<rect x="209.5" y="602.6" width="48.8" height="27.2" fill="#323232"/>
<text x="233.9" y="622.3" font-family="Liberation Sans" font-size="14" fill="#d8d8d8" text-anchor="middle" font-weight="normal" font-style="normal" letter-spacing="0">3M</text>
<rect x="259.7" y="602.6" width="50.0" height="27.2" fill="#3547f5"/>
<text x="284.7" y="622.3" font-family="Liberation Sans" font-size="14" fill="#f4f4f4" text-anchor="middle" font-weight="normal" font-style="normal" letter-spacing="0">6M</text>
<rect x="311.1" y="602.6" width="56.7" height="27.2" fill="#323232"/>
<text x="339.45000000000005" y="622.3" font-family="Liberation Sans" font-size="14" fill="#d8d8d8" text-anchor="middle" font-weight="normal" font-style="normal" letter-spacing="0">YTD</text>
<rect x="369.6" y="602.6" width="45.4" height="27.2" fill="#323232"/>
<text x="392.3" y="622.3" font-family="Liberation Sans" font-size="14" fill="#d8d8d8" text-anchor="middle" font-weight="normal" font-style="normal" letter-spacing="0">1Y</text>
<rect x="416.7" y="602.6" width="46.6" height="27.2" fill="#323232"/>
<text x="440.0" y="622.3" font-family="Liberation Sans" font-size="14" fill="#d8d8d8" text-anchor="middle" font-weight="normal" font-style="normal" letter-spacing="0">2Y</text>
<rect x="465" y="602.6" width="46.0" height="27.2" fill="#323232"/>
<text x="488.0" y="622.3" font-family="Liberation Sans" font-size="14" fill="#d8d8d8" text-anchor="middle" font-weight="normal" font-style="normal" letter-spacing="0">3Y</text>
<rect x="512.6" y="602.6" width="45.9" height="27.2" fill="#323232"/>
<text x="535.55" y="622.3" font-family="Liberation Sans" font-size="14" fill="#d8d8d8" text-anchor="middle" font-weight="normal" font-style="normal" letter-spacing="0">5Y</text>
<rect x="560.2" y="602.6" width="54.1" height="27.2" fill="#323232"/>
<text x="587.25" y="622.3" font-family="Liberation Sans" font-size="14" fill="#d8d8d8" text-anchor="middle" font-weight="normal" font-style="normal" letter-spacing="0">10Y</text>
<rect x="616" y="602.6" width="54.2" height="27.2" fill="#323232"/>
<text x="643.1" y="622.3" font-family="Liberation Sans" font-size="14" fill="#d8d8d8" text-anchor="middle" font-weight="normal" font-style="normal" letter-spacing="0">20Y</text>
<rect x="672.8" y="602.6" width="55.0" height="27.2" fill="#323232"/>
<text x="700.3" y="622.3" font-family="Liberation Sans" font-size="14" fill="#d8d8d8" text-anchor="middle" font-weight="normal" font-style="normal" letter-spacing="0">Max</text>
<rect x="730.8" y="602.6" width="27.2" height="27.2" fill="#323232"/>
<polygon points="751.70,616.20 751.43,616.89 750.78,617.47 750.08,617.92 749.67,618.38 749.63,619.00 749.80,619.81 749.86,620.68 749.56,621.36 748.88,621.66 748.01,621.60 747.20,621.43 746.58,621.47 746.12,621.88 745.67,622.58 745.09,623.23 744.40,623.50 743.71,623.23 743.13,622.58 742.68,621.88 742.22,621.47 741.60,621.43 740.79,621.60 739.92,621.66 739.24,621.36 738.94,620.68 739.00,619.81 739.17,619.00 739.13,618.38 738.72,617.92 738.02,617.47 737.37,616.89 737.10,616.20 737.37,615.51 738.02,614.93 738.72,614.48 739.13,614.02 739.17,613.40 739.00,612.59 738.94,611.72 739.24,611.04 739.92,610.74 740.79,610.80 741.60,610.97 742.22,610.93 742.68,610.52 743.13,609.82 743.71,609.17 744.40,608.90 745.09,609.17 745.67,609.82 746.12,610.52 746.58,610.93 747.20,610.97 748.01,610.80 748.88,610.74 749.56,611.04 749.86,611.72 749.80,612.59 749.63,613.40 749.67,614.02 750.08,614.48 750.78,614.93 751.43,615.51" fill="none" stroke="#c8c8c8" stroke-width="1.8" stroke-linejoin="round"/>
<circle cx="744.4" cy="616.2" r="2.4" fill="none" stroke="#c8c8c8" stroke-width="1.6"/>
<rect x="778.8" y="602.5" width="247" height="28" fill="#0f0f0f" stroke="#2c2c2c" stroke-width="1"/>
<text x="797.5" y="622.1" font-family="Liberation Sans" font-size="14" fill="#dcdcdc" text-anchor="start" font-weight="normal" font-style="normal" letter-spacing="0.3">13-Nov-2023</text>
<rect x="889" y="616.5" width="6" height="1.8" fill="#dcdcdc"/>
<text x="904.9" y="622.1" font-family="Liberation Sans" font-size="14" fill="#dcdcdc" text-anchor="start" font-weight="normal" font-style="normal" letter-spacing="0.2">19-Aug-2024</text>
<rect x="998.5" y="608.5" width="15.5" height="14.5" rx="1.5" fill="none" stroke="#d8d8d8" stroke-width="1.5"/>
<rect x="998.5" y="611.5" width="15.5" height="1.4" fill="#d8d8d8"/>
<rect x="1002" y="606.5" width="1.4" height="3" fill="#d8d8d8"/>
<rect x="1009" y="606.5" width="1.4" height="3" fill="#d8d8d8"/>
<rect x="6.2" y="7.4" width="1586" height="627.4" fill="none" stroke="#5b88d6" stroke-width="1.8"/>
<text x="4.9" y="657" font-family="Liberation Sans" font-size="15.6" fill="#111" text-anchor="start" font-weight="bold" font-style="italic" letter-spacing="0">NBIS's Technical Chart, Source: REFINITIV; Analysis by Kalkine Group</text>
</svg>
</body></html>
